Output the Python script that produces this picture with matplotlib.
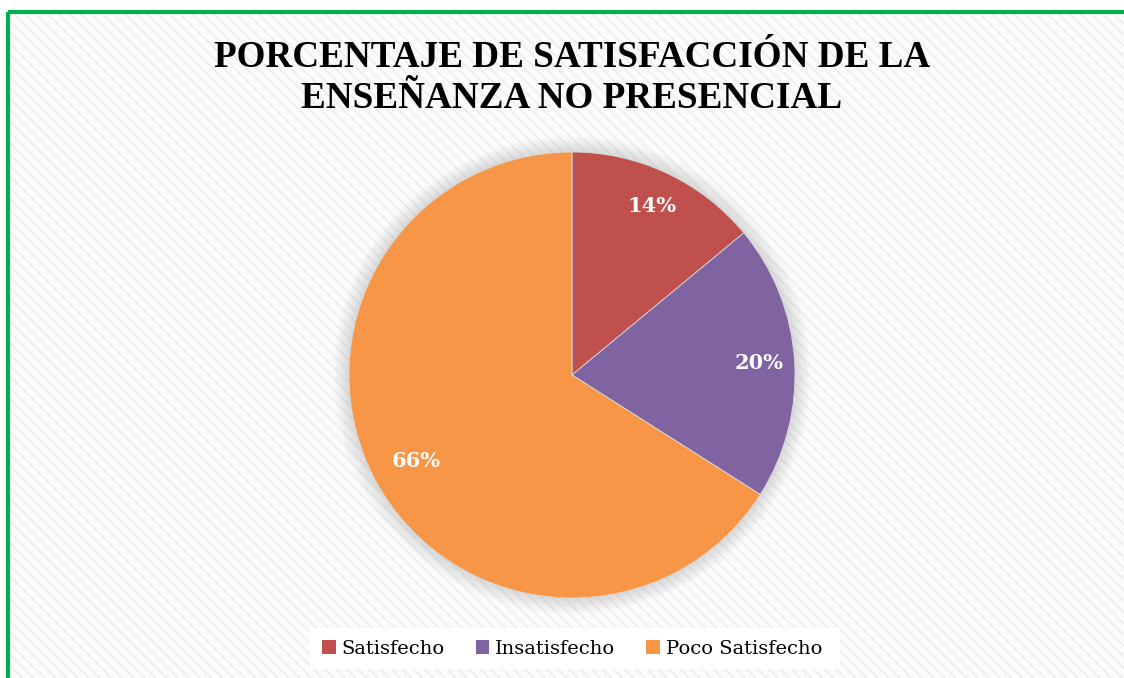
import numpy as np
import matplotlib.pyplot as plt
from matplotlib.patches import Rectangle, Circle

categorias = ['Satisfecho', 'Insatisfecho', 'Poco Satisfecho']
porcentajes = [14, 20, 66]
colores = ['#C0504D', '#8064A2', '#F79646']
titulo = 'PORCENTAJE DE SATISFACCIÓN DE LA\nENSEÑANZA NO PRESENCIAL'

W, H = 1124, 678
fig = plt.figure(figsize=(W / 100, H / 100), dpi=100)
fig.patch.set_facecolor('white')

# fondo rayado con borde verde
fondo = fig.add_axes([0, 0, 1, 1])
fondo.set_xlim(0, W)
fondo.set_ylim(H, 0)
fondo.axis('off')
fondo.add_patch(Rectangle((8, 12), W + 20, H + 20, facecolor='#fbfbfb',
                          edgecolor='#ebebeb', hatch='\\\\\\', linewidth=0))
fondo.add_patch(Rectangle((8, 12), W + 20, H + 20, facecolor='none',
                          edgecolor='#00B050', linewidth=3))

# caja blanca de la leyenda
fondo.add_patch(Rectangle((310, 628), 530, 41, facecolor='white', edgecolor='none'))

# ejes del pastel
cx, cy, r = 572, 375, 223
ax = fig.add_axes([(cx - r) / W, (H - cy - r) / H, 2 * r / W, 2 * r / H])
ax.set_aspect('equal')
ax.axis('off')

# sombra suave
for rr in np.linspace(1.07, 1.0, 12):
    ax.add_patch(Circle((0, 0), rr, facecolor='#8a8a8a', alpha=0.025,
                        edgecolor='none', clip_on=False))

wedges, textos, pcts = ax.pie(porcentajes, colors=colores, startangle=90, counterclock=False,
                              autopct='%d%%', pctdistance=0.84, radius=1,
                              wedgeprops=dict(linewidth=0.6, edgecolor='#d9d9d9'),
                              textprops=dict(color='white', fontsize=15, fontweight='bold',
                                             family='DejaVu Serif'))
ax.set_xlim(-1, 1)
ax.set_ylim(-1, 1)

# la etiqueta del 66% va desplazada como en el original
ang = np.deg2rad(-151)
pcts[2].set_position((0.8 * np.cos(ang), 0.8 * np.sin(ang)))

fig.text(cx / W, 1 - 78 / H, titulo, ha='center', va='center', fontsize=26.7,
         fontweight='bold', family='Liberation Serif', linespacing=1.2)

leg = fig.legend(wedges, categorias, loc='center', bbox_to_anchor=(cx / W, 1 - 649 / H),
                 ncol=3, frameon=False, prop=dict(family='DejaVu Serif', size=14),
                 handlelength=0.7, handleheight=0.7, handletextpad=0.3, columnspacing=1.6)
for h in leg.legend_handles:
    h.set_edgecolor('none')

fig.savefig('out.png', dpi=100)
